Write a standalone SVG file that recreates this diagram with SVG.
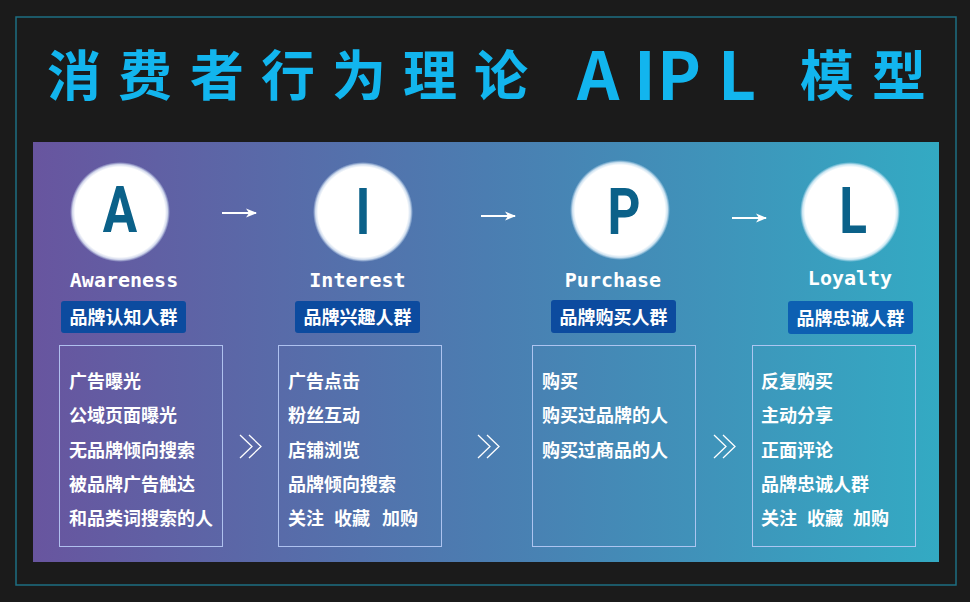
<svg xmlns="http://www.w3.org/2000/svg" width="970" height="602" viewBox="0 0 970 602">
<defs>
<linearGradient id="panel" x1="0" y1="0" x2="1" y2="0">
<stop offset="0" stop-color="#68559f"/>
<stop offset="0.5" stop-color="#4b7db1"/>
<stop offset="1" stop-color="#33aac3"/>
</linearGradient>
<radialGradient id="glow" cx="0.5" cy="0.5" r="0.5">
<stop offset="0" stop-color="#ffffff"/>
<stop offset="0.9" stop-color="#ffffff"/>
<stop offset="0.95" stop-color="#f0f8ff" stop-opacity="0.8"/>
<stop offset="1" stop-color="#dcefff" stop-opacity="0"/>
</radialGradient>
<marker id="ah" markerWidth="12" markerHeight="10" refX="10" refY="5" orient="auto" markerUnits="userSpaceOnUse">
<path d="M0,0.5 L11,5 L0,9.5 L3,5 Z" fill="#ffffff"/>
</marker>
<style>
.title{font-family:"Noto Sans CJK SC","Noto Sans",sans-serif;font-weight:bold;fill:#12b5ee;}
.big{font-family:Roboto,"Liberation Sans",sans-serif;font-weight:bold;font-size:64px;fill:#0b6189;text-anchor:middle;}
.en{font-family:"DejaVu Sans Mono","Liberation Mono",monospace;font-weight:bold;font-size:20px;fill:#ffffff;text-anchor:middle;}
.tag{fill:#0c4b9f;}
.tagt{font-family:"Noto Sans CJK SC",sans-serif;font-weight:bold;font-size:18px;fill:#ffffff;text-anchor:middle;}
.box{fill:none;stroke:#b8cbf6;stroke-opacity:0.9;stroke-width:1;}
.item{font-family:"Noto Sans CJK SC",sans-serif;font-weight:bold;font-size:18px;fill:#ffffff;}
.conn{stroke:#ffffff;stroke-width:1.8;fill:none;}
.chev{stroke:#ffffff;stroke-width:1.3;fill:none;}
</style>
</defs>
<rect x="0" y="0" width="970" height="602" fill="#1b1b1b"/>
<rect x="16" y="17" width="940" height="568" fill="none" stroke="#1e6f83" stroke-width="1.5"/>
<g id="title">
<text class="title" font-size="54" y="96" x="47 118 190 261 332 403 474">消费者行为理论</text>
<text class="title" font-size="66" y="100" x="577 634 657 718">AIPL</text>
<text class="title" font-size="54" y="96" x="800 872">模型</text>
</g>
<rect x="33" y="142" width="906" height="420" fill="url(#panel)"/>
<g id="node-A">
<circle cx="120" cy="212" r="50" fill="url(#glow)"/>
<text class="big" transform="translate(120,232) scale(0.8,1)">A</text>
<text class="en" x="124" y="287">Awareness</text>
<rect class="tag" x="61" y="301" width="125" height="32" rx="3"/>
<text class="tagt" x="123.5" y="324">品牌认知人群</text>
<rect class="box" x="59.5" y="345.5" width="163" height="201"/>
<text class="item" x="69" y="388">广告曝光</text>
<text class="item" x="69" y="422">公域页面曝光</text>
<text class="item" x="69" y="457">无品牌倾向搜索</text>
<text class="item" x="69" y="491">被品牌广告触达</text>
<text class="item" x="69" y="525">和品类词搜索的人</text>
</g>
<g id="node-I">
<circle cx="363" cy="212" r="50" fill="url(#glow)"/>
<text class="big" transform="translate(363,234) scale(0.8,1)">I</text>
<text class="en" x="357.5" y="287">Interest</text>
<rect class="tag" x="295" y="301" width="125" height="32" rx="3"/>
<text class="tagt" x="357.5" y="324">品牌兴趣人群</text>
<rect class="box" x="278.5" y="345.5" width="163" height="201"/>
<text class="item" x="288" y="388">广告点击</text>
<text class="item" x="288" y="422">粉丝互动</text>
<text class="item" x="288" y="457">店铺浏览</text>
<text class="item" x="288" y="491">品牌倾向搜索</text>
<text class="item" y="525"><tspan x="288">关注</tspan><tspan x="334">收藏</tspan><tspan x="382">加购</tspan></text>
</g>
<g id="node-P">
<circle cx="620" cy="210" r="50" fill="url(#glow)"/>
<text class="big" transform="translate(624,234) scale(0.8,1)">P</text>
<text class="en" x="613" y="287">Purchase</text>
<rect class="tag" x="551" y="300" width="125" height="33" rx="3" fill="#0c4fa2"/>
<text class="tagt" x="613.5" y="324">品牌购买人群</text>
<rect class="box" x="532.5" y="345.5" width="163" height="201"/>
<text class="item" x="542" y="388">购买</text>
<text class="item" x="542" y="422">购买过品牌的人</text>
<text class="item" x="542" y="457">购买过商品的人</text>
</g>
<g id="node-L">
<circle cx="850" cy="212" r="50" fill="url(#glow)"/>
<text class="big" transform="translate(853,233) scale(0.8,1)">L</text>
<text class="en" x="850" y="285">Loyalty</text>
<rect class="tag" x="788" y="301" width="125" height="33" rx="3" style="fill:#0d60b2"/>
<text class="tagt" x="850.5" y="325">品牌忠诚人群</text>
<rect class="box" x="752.5" y="345.5" width="163" height="201"/>
<text class="item" x="761" y="388">反复购买</text>
<text class="item" x="761" y="422">主动分享</text>
<text class="item" x="761" y="457">正面评论</text>
<text class="item" x="761" y="491">品牌忠诚人群</text>
<text class="item" y="525"><tspan x="761">关注</tspan><tspan x="807">收藏</tspan><tspan x="853">加购</tspan></text>
</g>
<g id="connectors">
<line class="conn" x1="222" y1="213" x2="256" y2="213" marker-end="url(#ah)"/>
<line class="conn" x1="481" y1="216" x2="515" y2="216" marker-end="url(#ah)"/>
<line class="conn" x1="732" y1="218" x2="766" y2="218" marker-end="url(#ah)"/>
<polyline class="chev" points="240,435 252,446.5 240,458"/>
<polyline class="chev" points="249,435 261,446.5 249,458"/>
<polyline class="chev" points="478,435 490,446.5 478,458"/>
<polyline class="chev" points="487,435 499,446.5 487,458"/>
<polyline class="chev" points="714,435 726,446.5 714,458"/>
<polyline class="chev" points="723,435 735,446.5 723,458"/>
</g>
</svg>
